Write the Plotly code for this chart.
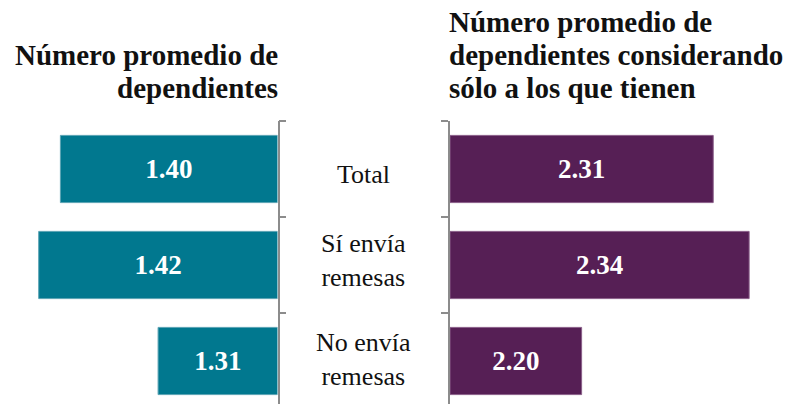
import plotly.graph_objects as go

categories = ["Total", "Sí envía<br>remesas", "No envía<br>remesas"]
promedio = [1.40, 1.42, 1.31]
promedio_con = [2.31, 2.34, 2.20]
title_left = ["Número promedio de", "dependientes"]
title_right = ["Número promedio de", "dependientes considerando", "sólo a los que tienen"]

W, H = 798, 404
FONT = "Liberation Serif, Times New Roman, DejaVu Serif, serif"
TEAL = "#01788F"
PURPLE = "#561F55"
GRAY = "#8c8c8c"

left_min = 1.2
left_k = 1085.5   # px per unit
right_min = 2.09
right_k = 1196.5
left_edge = 277.5
right_edge = 450.0

ypos = list(range(len(categories)))
band_px = 96.0
plot_top = 121.0
plot_h = H - plot_top
y_range = [-0.5 + plot_h / band_px, -0.5]

fig = go.Figure()
fig.add_trace(go.Bar(
    y=ypos, x=[v - left_min for v in promedio], base=left_min,
    orientation="h", xaxis="x", yaxis="y", width=0.70,
    marker=dict(color=TEAL, line=dict(color="#5aa3b3", width=1)),
    text=[f"{v:.2f}" for v in promedio], textposition="inside",
    insidetextanchor="middle", textangle=0, constraintext="none",
    textfont=dict(family=FONT, size=27, color="white", weight="bold"),
    hoverinfo="skip", showlegend=False,
))
fig.add_trace(go.Bar(
    y=ypos, x=[v - right_min for v in promedio_con], base=right_min,
    orientation="h", xaxis="x2", yaxis="y2", width=0.70,
    marker=dict(color=PURPLE, line=dict(color="#8a5f89", width=1)),
    text=[f"{v:.2f}" for v in promedio_con], textposition="inside",
    insidetextanchor="middle", textangle=0, constraintext="none",
    textfont=dict(family=FONT, size=27, color="white", weight="bold"),
    hoverinfo="skip", showlegend=False,
))

yaxis_common = dict(
    range=y_range, domain=[0, plot_h / H],
    tickmode="array", tickvals=[-0.5, 0.5, 1.5], showticklabels=False,
    ticks="outside", ticklen=7, tickwidth=1.5, tickcolor=GRAY,
    showline=True, linecolor=GRAY, linewidth=1.5,
    showgrid=False, zeroline=False, fixedrange=True,
)

fig.update_layout(
    width=W, height=H,
    margin=dict(l=0, r=0, t=0, b=0),
    paper_bgcolor="white", plot_bgcolor="rgba(0,0,0,0)",
    font=dict(family=FONT),
    bargap=0.3,
    xaxis=dict(domain=[0, left_edge / W],
               range=[left_min + left_edge / left_k, left_min],
               visible=False, fixedrange=True),
    xaxis2=dict(domain=[right_edge / W, 1],
                range=[right_min, right_min + (W - right_edge) / right_k],
                visible=False, fixedrange=True),
    yaxis=dict(anchor="x", side="right", **yaxis_common),
    yaxis2=dict(anchor="x2", side="left", **yaxis_common),
)

annotations = []
center_shift = [-5, 5, 2]
for i, c in enumerate(categories):
    annotations.append(dict(
        x=(left_edge + right_edge) / 2 / W, xref="paper", y=i, yref="y",
        text=c, showarrow=False, xanchor="center", yanchor="middle",
        yshift=center_shift[i],
        font=dict(family=FONT, size=26, color="#111111"),
    ))

left_title_y = [55, 88]
for t, yy in zip(title_left, left_title_y):
    annotations.append(dict(
        x=(left_edge + 2) / W, xref="paper", y=1 - yy / H, yref="paper",
        text=t, showarrow=False, xanchor="right", yanchor="middle",
        font=dict(family=FONT, size=29, color="#111111", weight="bold"),
    ))
right_title_y = [22, 55, 88]
for t, yy in zip(title_right, right_title_y):
    annotations.append(dict(
        x=(right_edge - 3) / W, xref="paper", y=1 - yy / H, yref="paper",
        text=t, showarrow=False, xanchor="left", yanchor="middle",
        font=dict(family=FONT, size=29, color="#111111", weight="bold"),
    ))
fig.update_layout(annotations=annotations)

fig.write_html(
    "out.html",
    config={"displayModeBar": False},
    post_script="document.body.style.margin='0';document.body.style.overflow='hidden';",
)
